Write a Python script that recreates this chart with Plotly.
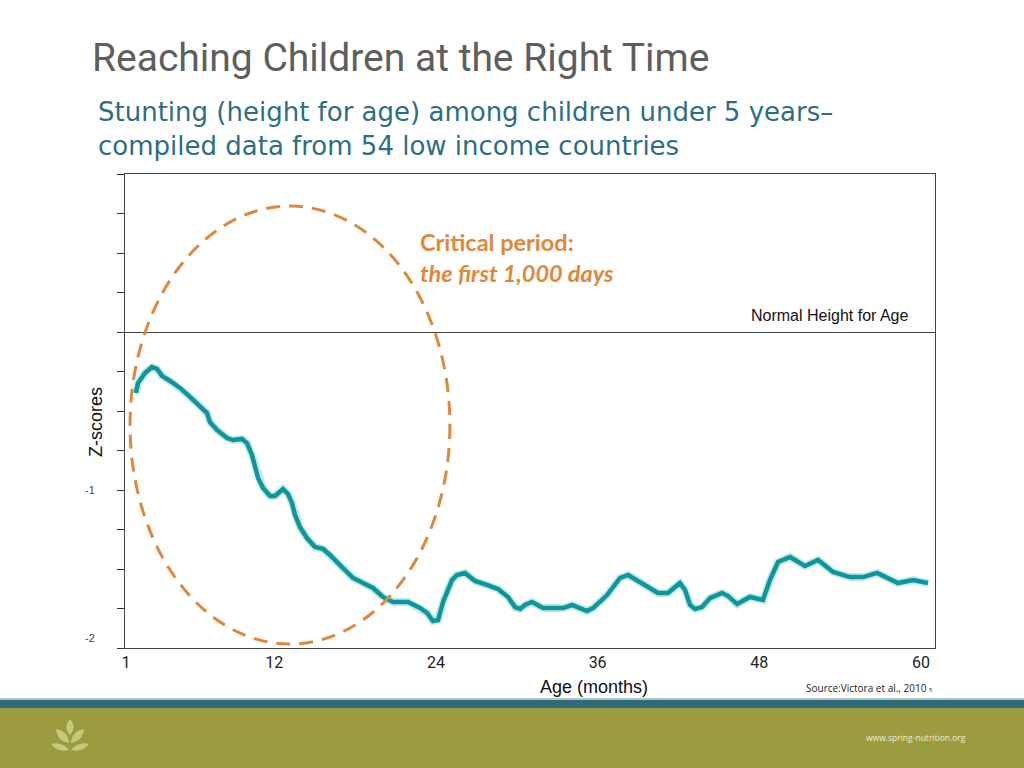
import plotly.graph_objects as go

# ---------------- data ----------------
age_months = [1.74, 1.89, 2.41, 2.93, 3.30, 3.67, 4.27, 5.01, 5.75, 6.49, 7.01, 7.23, 7.75,
              8.50, 8.94, 9.61, 9.98, 10.35, 10.57, 10.80, 11.17, 11.69, 12.06, 12.65, 13.02,
              13.32, 13.54, 13.91, 14.43, 15.03, 15.62, 16.14, 16.88, 17.85, 18.59, 19.33,
              20.07, 20.82, 21.93, 22.82, 23.34, 23.78, 24.16, 24.53, 25.19, 25.56, 26.16,
              26.90, 27.79, 28.61, 29.35, 29.87, 30.24, 30.61, 31.13, 31.95, 33.43, 34.10,
              35.21, 35.66, 36.70, 37.66, 38.26, 38.92, 39.67, 40.48, 41.22, 42.11, 42.49,
              42.86, 43.23, 43.75, 44.34, 45.23, 45.68, 46.35, 47.31, 48.05, 48.27, 48.79,
              49.39, 50.28, 51.39, 52.36, 53.47, 54.73, 55.70, 56.74, 58.29, 59.41, 60.52]
z_scores = [-0.386, -0.323, -0.259, -0.222, -0.234, -0.278, -0.310, -0.354, -0.411, -0.468,
            -0.513, -0.570, -0.620, -0.671, -0.684, -0.677, -0.703, -0.778, -0.842, -0.924,
            -0.987, -1.038, -1.038, -0.994, -1.025, -1.082, -1.158, -1.234, -1.304, -1.361,
            -1.373, -1.411, -1.475, -1.557, -1.589, -1.620, -1.677, -1.709, -1.709, -1.747,
            -1.778, -1.829, -1.823, -1.709, -1.570, -1.538, -1.525, -1.576, -1.601, -1.627,
            -1.677, -1.741, -1.753, -1.728, -1.709, -1.747, -1.747, -1.728, -1.766, -1.747,
            -1.665, -1.557, -1.538, -1.570, -1.608, -1.652, -1.652, -1.589, -1.633, -1.728,
            -1.753, -1.741, -1.684, -1.652, -1.671, -1.722, -1.677, -1.696, -1.696, -1.570,
            -1.456, -1.424, -1.481, -1.443, -1.519, -1.551, -1.551, -1.525, -1.589, -1.570,
            -1.589]

x_tick_vals = [1, 12, 24, 36, 48, 60]
x_tick_text = ["1", "12", "24", "36", "48", "60"]
y_tick_vals = [-2, -1.75, -1.5, -1.25, -1, -0.75, -0.5, -0.25, 0, 0.25, 0.5, 0.75, 1]
y_label_vals = [-1, -2]
y_label_text = ["-1", "-2"]

# critical period ellipse (months / z-score)
crit_x0, crit_x1 = 1.30, 25.04
crit_y0, crit_y1 = -1.975, 0.797

title_text = "Reaching Children at the Right Time"
subtitle_1 = "Stunting (height for age) among children under 5 years–"
subtitle_2 = "compiled data from 54 low income countries"

# ---------------- layout geometry ----------------
W, H = 1024, 768
PL, PR, PT, PB = 125, 935, 174, 648  # plot area pixel box


def px(p):
    return (p - PL) / (PR - PL)


def py(p):
    return (PB - p) / (PB - PT)


TEAL = "#0b979c"
ORANGE = "#e0873a"

fig = go.Figure()
fig.add_trace(go.Scatter(x=age_months, y=z_scores, mode="lines",
                         line=dict(color="rgba(11,151,156,0.22)", width=8),
                         hoverinfo="skip", showlegend=False))
fig.add_trace(go.Scatter(x=age_months, y=z_scores, mode="lines",
                         line=dict(color=TEAL, width=4.5),
                         showlegend=False))

shapes = []
# critical period ellipse
shapes.append(dict(type="circle", xref="x", yref="y",
                   x0=crit_x0, x1=crit_x1, y0=crit_y0, y1=crit_y1,
                   line=dict(color=ORANGE, width=3, dash="14px,9px")))
# footer bands
shapes.append(dict(type="rect", xref="paper", yref="paper", layer="below",
                   x0=px(0), x1=px(W), y0=py(700), y1=py(698),
                   fillcolor="#b9c3c3", line=dict(width=0)))
shapes.append(dict(type="rect", xref="paper", yref="paper",
                   x0=px(0), x1=px(W), y0=py(708), y1=py(700),
                   fillcolor="#2e6b79", line=dict(width=0)))
shapes.append(dict(type="rect", xref="paper", yref="paper",
                   x0=px(0), x1=px(W), y0=py(H), y1=py(708),
                   fillcolor="#9b9b3f", line=dict(width=0)))


def path_from(points_cmds):
    out = []
    for cmd, pts in points_cmds:
        coords = " ".join(f"{px(a):.5f},{py(b):.5f}" for a, b in pts)
        out.append(f"{cmd} {coords}")
    return " ".join(out) + " Z"


LOGO = "#c3c97d"
leaves = [
    [("M", [(70, 719)]), ("Q", [(77.5, 727), (70, 735)]), ("Q", [(62.5, 727), (70, 719)])],
    [("M", [(56, 729)]), ("Q", [(68, 731), (69, 743)]), ("Q", [(57, 741), (56, 729)])],
    [("M", [(84, 729)]), ("Q", [(72, 731), (71, 743)]), ("Q", [(83, 741), (84, 729)])],
    [("M", [(51, 744)]), ("Q", [(62, 741), (69, 750)]), ("Q", [(58, 753), (51, 744)])],
    [("M", [(89, 744)]), ("Q", [(78, 741), (71, 750)]), ("Q", [(82, 753), (89, 744)])],
]
for lf in leaves:
    shapes.append(dict(type="path", xref="paper", yref="paper",
                       path=path_from(lf), fillcolor=LOGO, line=dict(width=0)))

annotations = []
annotations.append(dict(xref="paper", yref="paper", x=px(90), y=py(58),
                        xanchor="left", yanchor="middle", showarrow=False,
                        text=title_text,
                        font=dict(family="Roboto", size=39, color="#5e5e5e")))
annotations.append(dict(xref="paper", yref="paper", x=px(96), y=py(112),
                        xanchor="left", yanchor="middle", showarrow=False,
                        text=subtitle_1,
                        font=dict(family="DejaVu Sans", size=26, color="#2d6e80")))
annotations.append(dict(xref="paper", yref="paper", x=px(96), y=py(146),
                        xanchor="left", yanchor="middle", showarrow=False,
                        text=subtitle_2,
                        font=dict(family="DejaVu Sans", size=26, color="#2d6e80")))
annotations.append(dict(xref="paper", yref="paper", x=px(418), y=py(242),
                        xanchor="left", yanchor="middle", showarrow=False,
                        text="<b>Critical period:</b>",
                        font=dict(family="Lato", size=23.5, color=ORANGE)))
annotations.append(dict(xref="paper", yref="paper", x=px(418), y=py(273),
                        xanchor="left", yanchor="middle", showarrow=False,
                        text="<b><i>the first 1,000 days</i></b>",
                        font=dict(family="Lato", size=23.5, color=ORANGE)))
annotations.append(dict(xref="paper", yref="paper", x=px(911), y=py(315),
                        xanchor="right", yanchor="middle", showarrow=False,
                        text="Normal Height for Age",
                        font=dict(family="Liberation Sans", size=16, color="#111111")))
annotations.append(dict(xref="paper", yref="paper", x=px(96), y=py(422),
                        xanchor="center", yanchor="middle", showarrow=False,
                        textangle=-90, text="Z-scores",
                        font=dict(family="Liberation Sans", size=18, color="#111111")))
for v, t, sh in zip(y_label_vals, y_label_text, [0, 10]):
    annotations.append(dict(xref="paper", yref="y", x=px(97), y=v, yshift=sh,
                            xanchor="right", yanchor="middle", showarrow=False,
                            text=t, font=dict(family="Liberation Sans", size=11, color="#444444")))
annotations.append(dict(xref="paper", yref="paper", x=px(594), y=py(687),
                        xanchor="center", yanchor="middle", showarrow=False,
                        text="Age (months)",
                        font=dict(family="Liberation Sans", size=18, color="#111111")))
annotations.append(dict(xref="paper", yref="paper", x=px(935), y=py(688),
                        xanchor="right", yanchor="middle", showarrow=False,
                        text="Source:Victora et al., 2010 <span style='font-size:6px'>5</span>",
                        font=dict(family="Open Sans", size=10, color="#222222")))
annotations.append(dict(xref="paper", yref="paper", x=px(968), y=py(737),
                        xanchor="right", yanchor="middle", showarrow=False,
                        text="www.spring-nutrition.org",
                        font=dict(family="Open Sans", size=8.5, color="#eef0d8")))

x_lo = 1 + (PL - 126) * 59 / 795
x_hi = 1 + (PR - 126) * 59 / 795

fig.update_layout(
    width=W, height=H, autosize=False,
    margin=dict(l=PL, r=W - PR, t=PT, b=H - PB, pad=0),
    paper_bgcolor="white", plot_bgcolor="white",
    shapes=shapes, annotations=annotations,
    xaxis=dict(range=[x_lo, x_hi], tickvals=x_tick_vals, ticktext=x_tick_text,
               showgrid=False, zeroline=False, ticks="",
               showline=True, mirror=True, linecolor="#444444", linewidth=1.3,
               tickfont=dict(family="Roboto", size=16, color="#222222")),
    yaxis=dict(range=[-2, 1], tickvals=y_tick_vals, showticklabels=False,
               ticks="outside", ticklen=7, tickcolor="#333333", tickwidth=1.2,
               showgrid=False, zeroline=True, zerolinecolor="#444444", zerolinewidth=1.3,
               showline=True, mirror=True, linecolor="#444444", linewidth=1.3),
)

fig.write_html("out.html", config={"displayModeBar": False},
               post_script="document.body.style.margin='0';document.body.style.overflow='hidden';")
